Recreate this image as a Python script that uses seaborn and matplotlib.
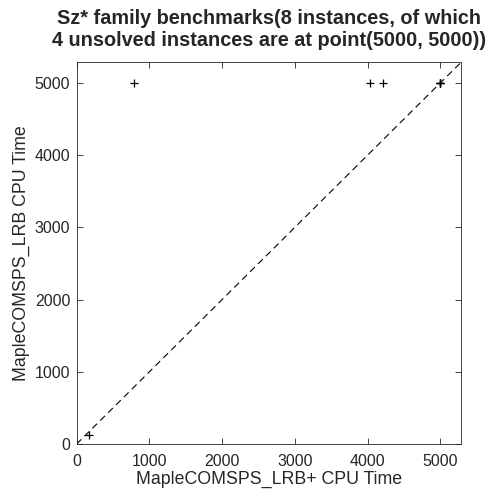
import matplotlib
matplotlib.use("Agg")
import matplotlib.pyplot as plt
import seaborn as sns
import pandas as pd

# data
lrb_plus_time = [787, 4029, 4214, 5000, 5000, 5000, 5000, 170]
lrb_time = [5000, 5000, 5000, 5000, 5000, 5000, 5000, 130]
ticks = [0, 1000, 2000, 3000, 4000, 5000]
axis_max = 5285
title = "Sz* family benchmarks(8 instances, of which\n4 unsolved instances are at point(5000, 5000))"
xlabel = "MapleCOMSPS_LRB+ CPU Time"
ylabel = "MapleCOMSPS_LRB CPU Time"

sns.set_style("white")
plt.rcParams['font.family'] = ['Liberation Sans', 'DejaVu Sans']

df = pd.DataFrame({"x": lrb_plus_time, "y": lrb_time})

fig = plt.figure(figsize=(4.88, 4.95), dpi=100)
ax = fig.add_axes([0.157, 0.103, 0.9447 - 0.157, 0.874 - 0.103])

ax.axline((0, 0), slope=1, color="black", linestyle=(0, (6, 4)), linewidth=0.8)
sns.scatterplot(data=df, x="x", y="y", marker="+", color="black", s=40,
                linewidth=0.9, ax=ax, zorder=3)

ax.set_xlim(0, axis_max)
ax.set_ylim(0, axis_max)
ax.set_xticks(ticks)
ax.set_yticks(ticks)
axis_color = "#262626"
ax.set_xlabel(xlabel, fontsize=12.8, color=axis_color, labelpad=1)
ax.set_ylabel(ylabel, fontsize=12.8, color=axis_color, labelpad=3.5)
ax.set_title(title, fontsize=14.3, fontweight="bold", pad=11.5, linespacing=1.25)

for sp in ax.spines.values():
    sp.set_visible(True)
    sp.set_color(axis_color)
    sp.set_linewidth(0.6)
ax.tick_params(direction="in", length=4, width=0.6, colors=axis_color,
               labelsize=11.5, top=True, right=True, bottom=True, left=True)
ax.tick_params(axis="x", pad=7.5)
ax.tick_params(axis="y", pad=4.5)
ax.grid(False)

fig.savefig("out.png", dpi=100)
